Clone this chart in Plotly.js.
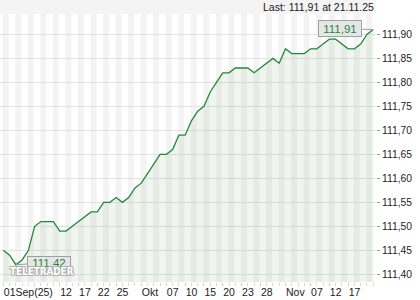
<!DOCTYPE html>
<html>
<head>
<meta charset="utf-8">
<script src="https://cdn.plot.ly/plotly-3.0.1.min.js"></script>
<style>html,body{margin:0;padding:0;background:#fff;}#chart{width:420px;height:300px;}</style>
</head>
<body>
<div id="chart"></div>
<script>
// Trading days, 01.09.2025 - 21.11.2025
const dates = [
  "2025-09-01","2025-09-02","2025-09-03","2025-09-04","2025-09-05","2025-09-08","2025-09-09","2025-09-10","2025-09-11","2025-09-12",
  "2025-09-15","2025-09-16","2025-09-17","2025-09-18","2025-09-19","2025-09-22","2025-09-23","2025-09-24","2025-09-25","2025-09-26",
  "2025-09-29","2025-09-30","2025-10-01","2025-10-02","2025-10-03","2025-10-06","2025-10-07","2025-10-08","2025-10-09","2025-10-10",
  "2025-10-13","2025-10-14","2025-10-15","2025-10-16","2025-10-17","2025-10-20","2025-10-21","2025-10-22","2025-10-23","2025-10-24",
  "2025-10-27","2025-10-28","2025-10-29","2025-10-30","2025-10-31","2025-11-03","2025-11-04","2025-11-05","2025-11-06","2025-11-07",
  "2025-11-10","2025-11-11","2025-11-12","2025-11-13","2025-11-14","2025-11-17","2025-11-18","2025-11-19","2025-11-20","2025-11-21"
];
const prices = [
  111.45,111.44,111.42,111.43,111.45,111.50,111.51,111.51,111.51,111.49,
  111.49,111.50,111.51,111.52,111.53,111.53,111.55,111.55,111.56,111.55,
  111.56,111.58,111.59,111.61,111.63,111.65,111.65,111.66,111.69,111.69,
  111.72,111.74,111.75,111.78,111.80,111.82,111.82,111.83,111.83,111.83,
  111.82,111.83,111.84,111.85,111.84,111.87,111.86,111.86,111.86,111.87,
  111.87,111.88,111.89,111.89,111.88,111.87,111.87,111.88,111.90,111.91
];
const tickDates = ["2025-09-01","2025-09-12","2025-09-17","2025-09-22","2025-09-25","2025-10-01","2025-10-07","2025-10-10","2025-10-15","2025-10-20","2025-10-23","2025-10-28","2025-11-03","2025-11-07","2025-11-12","2025-11-17"];
const tickLabels = ["01Sep(25)","12","17","22","25","Okt","07","10","15","20","23","28","Nov","07","12","17"];
const lastLabel = "Last: 111,91 at 21.11.25";
const watermark = "TELETRADER";

const idx = dates.map((d, i) => i);
const tickvals = tickDates.map(d => dates.indexOf(d));

let minI = 0;
prices.forEach((p, i) => { if (p < prices[minI]) minI = i; });
const lastI = prices.length - 1;
const fmt = v => v.toFixed(2).replace('.', ',');

const font = "Liberation Sans, Arial, sans-serif";

// alternating day stripes
const shapes = [];
for (let i = 0; i < dates.length; i += 2) {
  shapes.push({type:'rect', xref:'x', yref:'paper', x0:i - 0.1, x1:i + 0.85, y0:0, y1:1,
    fillcolor:'#f3f3f3', line:{width:0}, layer:'below'});
}
// header band
shapes.push({type:'rect', xref:'paper', yref:'paper', x0:0, x1:1, y0:1, y1:1 + 14/268,
  fillcolor:'#f4f4f4', line:{width:0}, layer:'below'});

const trace = {
  x: idx, y: prices, type:'scatter', mode:'lines',
  line:{color:'#22893a', width:1.3},
  fill:'tozeroy', fillcolor:'rgba(110,170,100,0.10)',
  hoverinfo:'skip'
};

const layout = {
  width:420, height:300,
  margin:{l:0, r:44, t:14, b:18, pad:0},
  paper_bgcolor:'#ffffff', plot_bgcolor:'#ffffff',
  separators:',.',
  showlegend:false,
  font:{family:font, size:10, color:'#222'},
  xaxis:{
    range:[-0.53, 59.44], showgrid:false, zeroline:false, showline:false,
    tickmode:'array', tickvals:tickvals, ticktext:tickLabels, tickangle:0,
    ticks:'outside', ticklen:3, tickcolor:'#cccccc', tickwidth:1,
    ticklabelposition:'outside right',
    tickfont:{family:font, size:10.5, color:'#222'},
    minor:{tickmode:'array', tickvals:idx, ticks:'outside', ticklen:3, tickcolor:'#d8d8d8', showgrid:false}
  },
  yaxis:{
    side:'right', range:[111.384, 111.9425], dtick:0.05, tick0:111.40, tickformat:'.2f',
    showgrid:true, gridcolor:'#e2e2e2', gridwidth:1, zeroline:false, showline:false,
    ticks:'outside', ticklen:3, tickcolor:'#999',
    tickfont:{family:font, size:10.3, color:'#222'}
  },
  shapes:shapes,
  annotations:[
    {xref:'paper', yref:'paper', x:1, y:1 + 7/268, xanchor:'right', yanchor:'middle',
     text:lastLabel, showarrow:false, font:{family:font, size:10.5, color:'#222'}},
    {x:minI, y:prices[minI], xref:'x', yref:'y', text:fmt(prices[minI]),
     showarrow:true, arrowhead:0, arrowwidth:1, arrowcolor:'#a0a0a0', ax:33, ay:-2,
     bgcolor:'#e6e6e6', bordercolor:'#a0a0a0', borderwidth:1, borderpad:0, width:42, height:12,
     font:{family:font, size:11.5, color:'#22893a'}},
    {x:lastI, y:prices[lastI], xref:'x', yref:'y', text:fmt(prices[lastI]),
     showarrow:true, arrowhead:0, arrowwidth:1, arrowcolor:'#a0a0a0', ax:-33, ay:-1,
     bgcolor:'#e6e6e6', bordercolor:'#a0a0a0', borderwidth:1, borderpad:0, width:42, height:15,
     font:{family:font, size:11.5, color:'#22893a'}},
    {xref:'paper', yref:'paper', x:8/376, y:(282-271.5)/268, xanchor:'left', yanchor:'middle',
     text:watermark, showarrow:false,
     font:{family:'DejaVu Sans Condensed, sans-serif', size:9.8, weight:700, color:'#ffffff',
       shadow:'-1px -1px 0 #b0b0b0, 1px -1px 0 #b0b0b0, -1px 1px 0 #b0b0b0, 1px 1px 0 #b0b0b0'}}
  ]
};

Plotly.newPlot('chart', [trace], layout, {staticPlot:true, displayModeBar:false});
</script>
</body>
</html>
